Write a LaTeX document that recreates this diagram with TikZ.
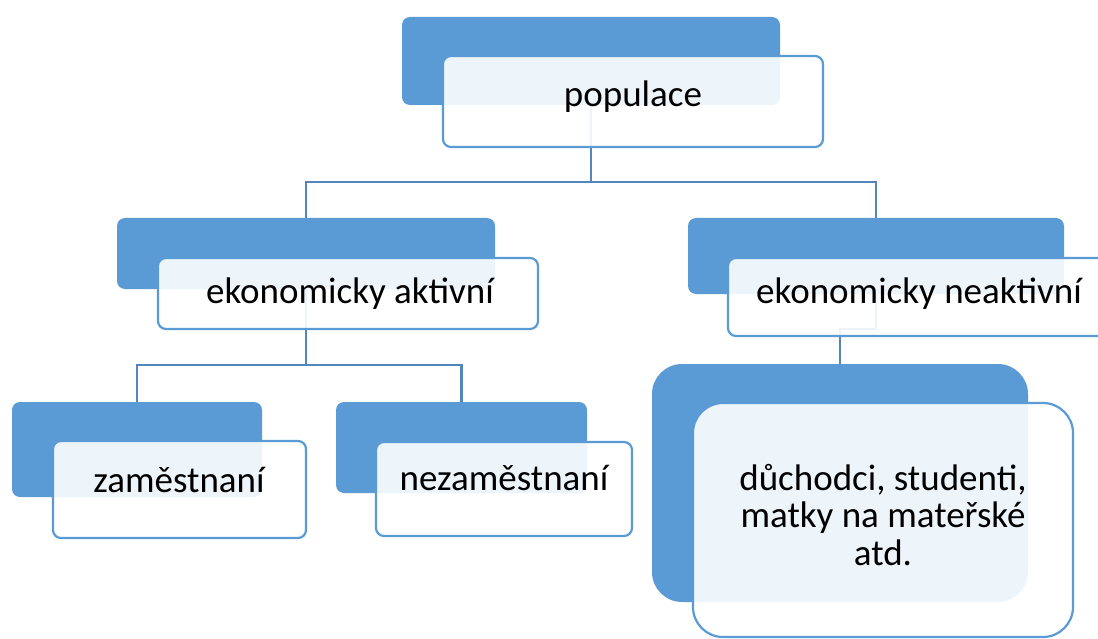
\documentclass[tikz,border=0pt]{standalone}
\usepackage{fontspec}
\setmainfont{Carlito}
\definecolor{backblue}{HTML}{5B9BD5}
\definecolor{edgeblue}{HTML}{5B9BD5}
\definecolor{linkblue}{HTML}{5486BE}
\begin{document}
\begin{tikzpicture}[x=1pt,y=-1pt,
  back/.style={fill=backblue, draw=none, rounded corners=8pt, inner sep=0pt, outer sep=0pt},
  front/.style={fill=white, fill opacity=0.9, draw=edgeblue, draw opacity=1, line width=2.2pt, rounded corners=8pt, inner sep=0pt, outer sep=0pt},
  link/.style={draw=linkblue, line width=2.2pt},
  lbl/.style={font=\fontsize{37}{37.5}\selectfont, inner sep=0pt, align=center, text=black}]
\fill[white] (0,0) rectangle (1098,639);
\useasboundingbox (0,0) rectangle (1098,639);

% back boxes (positions only, drawn later)
\path node[minimum width=378, minimum height=88, inner sep=0pt, outer sep=0pt] (popB) at (591,61) {}
      node[minimum width=378, minimum height=71, inner sep=0pt, outer sep=0pt] (aktB) at (306,253.5) {}
      node[minimum width=376, minimum height=76, inner sep=0pt, outer sep=0pt] (neaB) at (876,256) {}
      node[minimum width=250, minimum height=95, inner sep=0pt, outer sep=0pt] (zamB) at (137,449.5) {}
      node[minimum width=251, minimum height=91, inner sep=0pt, outer sep=0pt] (nezB) at (461.5,447.5) {}
      node[minimum width=376, minimum height=238, inner sep=0pt, outer sep=0pt] (duchB) at (840,483) {};

% connectors
\coordinate (bus1) at (0,182);
\coordinate (bus2) at (0,365);
\coordinate (bus3) at (0,329);
\draw[link] (popB.south) -- (popB.south |- bus1) -| (aktB.north);
\draw[link] (popB.south |- bus1) -| (neaB.north);
\draw[link] (aktB.south) -- (aktB.south |- bus2) -| (zamB.north);
\draw[link] (aktB.south |- bus2) -| (nezB.north);
\draw[link] (neaB.south) -- (neaB.south |- bus3) -| (duchB.north);

% back boxes
\fill[back] (popB.south west) rectangle (popB.north east);
\fill[back] (aktB.south west) rectangle (aktB.north east);
\fill[back] (neaB.south west) rectangle (neaB.north east);
\fill[back] (zamB.south west) rectangle (zamB.north east);
\fill[back] (nezB.south west) rectangle (nezB.north east);
\fill[back, rounded corners=30pt] (duchB.south west) rectangle (duchB.north east);

% front boxes
\node[front, minimum width=380, minimum height=91] (popF) at (633,101.5) {};
\node[front, minimum width=380, minimum height=71] (aktF) at (348,293.5) {};
\node[front, minimum width=378, minimum height=78] (neaF) at (917,297) {};
\node[front, minimum width=253, minimum height=97] (zamF) at (179.5,489.5) {};
\node[front, minimum width=256, minimum height=94] (nezF) at (504,489) {};
\node[front, rounded corners=30pt, minimum width=380, minimum height=234] (duchF) at (883,520) {};

% labels
\node[lbl, anchor=base] (popT) at (633,107) {populace};
\node[lbl, anchor=base] (aktT) at (350,303) {ekonomicky aktivní};
\node[lbl, anchor=base] (neaT) at (919,303) {ekonomicky neaktivní};
\node[lbl, anchor=base] (zamT) at (179,492) {zaměstnaní};
\node[lbl, anchor=base] (nezT) at (504,490) {nezaměstnaní};
\node[lbl, anchor=center] (duchT) at (883,515) {důchodci, studenti,\\matky na mateřské\\atd.};
\end{tikzpicture}
\end{document}
